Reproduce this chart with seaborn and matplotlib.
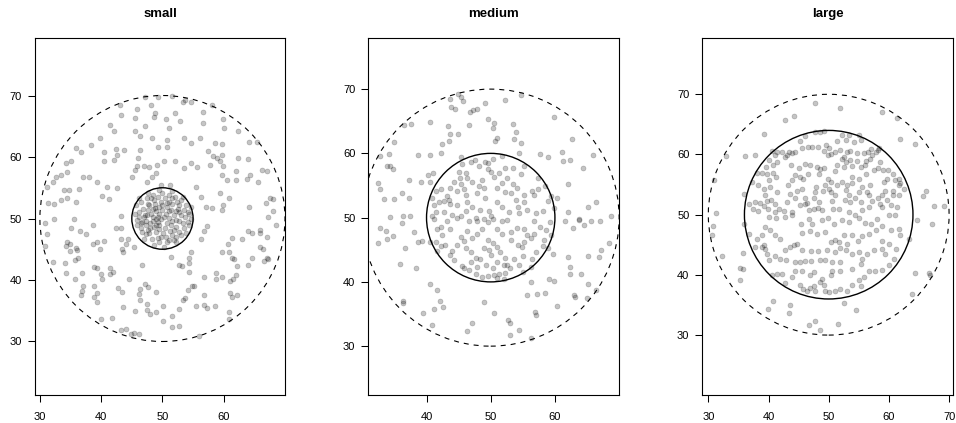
import matplotlib
matplotlib.use("Agg")
import matplotlib.pyplot as plt
from matplotlib.patches import Circle
import seaborn as sns
import pandas as pd

# ---------------- data ----------------
titles = ["small", "medium", "large"]
center = (50, 50)
inner_radius = [5, 10, 14]
outer_radius = 20

small_outer = [
    (47.2,69.8),(49.3,69.8),(51.6,69.9),(53.4,68.9),(54.6,69.0),(53.6,69.3),(43.1,68.4),(45.9,67.8),
    (48.2,68.5),(56.6,67.3),(58.1,68.4),(48.8,67.2),(48.7,66.5),(50.5,66.1),(52.0,67.1),(52.8,65.8),
    (43.2,66.9),(45.6,66.3),(41.4,65.2),(42.1,64.2),(47.1,65.0),(51.1,64.7),(56.6,65.6),(59.9,66.1),
    (60.0,64.7),(62.4,64.2),(39.8,63.1),(45.6,64.2),(46.3,63.4),(48.3,63.1),(50.8,62.8),(53.5,63.1),
    (54.6,62.3),(56.2,63.1),(58.6,62.3),(59.7,62.1),(64.1,62.5),(65.4,62.5),(35.9,61.5),(36.7,60.8),
    (38.3,62.0),(40.4,60.8),(42.5,61.3),(43.7,61.1),(46.4,61.1),(49.2,61.6),(50.8,61.6),(57.5,60.9),
    (58.2,60.1),(58.9,59.8),(59.7,60.4),(59.4,59.4),(62.4,59.8),(64.0,59.7),(40.5,59.4),(42.1,59.5),
    (42.6,60.4),(46.0,59.8),(45.8,58.6),(47.0,58.5),(47.8,58.4),(50.2,59.4),(52.0,59.4),(49.1,58.7),
    (53.5,58.2),(54.6,59.1),(55.6,58.4),(57.8,58.7),(59.9,58.5),(62.0,57.8),(64.3,57.1),(66.3,57.9),
    (67.1,57.8),(34.2,59.0),(35.0,59.3),(33.4,57.1),(34.5,57.5),(32.6,56.7),(37.0,56.8),(38.0,56.7),
    (39.4,56.0),(40.9,55.1),(42.6,54.9),(45.1,56.8),(45.6,57.9),(47.5,56.0),(48.3,56.8),(49.0,57.4),
    (49.7,55.5),(51.3,55.4),(55.4,55.2),(59.7,57.1),(60.5,56.3),(62.0,56.2),(63.8,56.4),(65.6,55.9),
    (31.1,55.1),(32.1,56.0),(34.0,54.7),(34.8,54.7),(36.3,54.8),(40.2,53.6),(41.3,53.2),(33.5,53.0),
    (34.4,53.3),(35.9,52.7),(31.4,52.6),(32.3,52.3),(43.2,50.4),(56.3,53.5),(57.1,51.9),(58.1,51.7),
    (59.4,54.1),(60.9,53.3),(59.9,52.2),(59.8,51.4),(64.1,51.8),(67.5,53.3),(68.1,53.1),(66.9,52.6),
    (68.0,51.3),(67.3,50.3),(32.3,50.0),(35.6,50.0),
    (30.8,49.2),(31.1,47.5),(30.8,45.6),(35.1,48.5),(36.6,48.0),(37.5,47.4),(38.7,48.9),(42.5,48.4),
    (43.3,48.4),(34.5,46.2),(34.9,45.8),(34.2,45.6),(35.9,45.2),(36.1,44.9),(34.9,44.7),(38.6,45.9),
    (39.4,46.1),(40.4,46.3),(39.8,45.0),(43.3,46.7),(44.3,46.7),(44.0,45.9),(43.4,45.1),(43.6,44.6),
    (45.3,45.4),(32.2,43.0),(34.1,42.8),(35.7,43.3),(36.2,43.6),(34.3,41.2),(35.7,40.2),(36.9,41.2),
    (38.8,42.1),(39.4,41.9),(40.0,41.0),(40.2,40.2),(41.5,42.0),(41.4,41.0),(42.0,41.3),(44.5,40.2),
    (46.7,42.4),(47.2,39.3),(47.6,38.9),(37.1,39.0),(36.8,38.2),(36.7,37.5),(38.9,39.0),(39.3,37.9),
    (38.8,37.2),(39.3,36.4),(42.7,38.7),(43.4,38.1),(46.3,38.5),(46.2,37.8),(46.3,36.7),(48.9,38.1),
    (39.9,33.7),(41.7,33.9),(43.6,35.6),(45.6,34.9),(47.5,36.1),(47.4,35.1),(47.9,34.4),(49.0,34.8),
    (50.1,35.8),(50.1,33.4),(51.6,34.2),(52.7,35.3),(43.3,31.9),(44.1,32.1),(44.8,31.3),(45.3,31.4),
    (46.2,31.3),(51.6,32.4),(52.7,32.6),(55.9,30.9),(51.4,43.8),(52.7,42.4),(53.2,42.2),(54.4,42.7),
    (54.4,43.5),(54.7,44.5),(54.4,41.3),(56.7,40.5),(54.8,39.0),(55.2,39.0),(54.1,38.3),(53.6,37.0),
    (53.4,36.7),(55.5,35.8),(56.7,37.5),(56.8,36.0),(57.2,35.5),(58.6,35.8),(58.7,40.2),(59.7,40.5),
    (58.8,41.2),(59.8,44.6),(60.9,44.6),(61.3,43.6),(61.7,43.4),(61.1,39.8),(61.5,40.1),(62.0,40.8),
    (62.2,42.3),(63.9,42.5),(64.6,43.5),(61.1,37.9),(62.1,37.5),(61.4,37.2),(60.9,34.8),(60.8,33.6),
    (56.3,46.7),(56.7,48.0),(57.3,48.7),(60.7,45.9),(61.3,46.8),(63.0,46.7),(63.9,47.9),(64.6,47.6),
    (65.9,48.1),(65.9,47.7),(67.0,47.0),(66.0,45.4),(66.4,45.0),(67.0,43.5),(66.5,43.1),(67.3,43.4),
    (68.5,49.0),
]
small_inner = [
    (46.5,52.7),(47.4,53.4),(48.4,53.8),(49.2,53.5),(50.0,54.1),(51.1,53.9),(52.1,53.5),(53.0,53.0),
    (53.8,52.2),(54.3,50.8),(54.1,49.5),(53.5,48.4),(53.0,47.3),(51.9,46.5),(50.8,46.1),(49.5,46.2),
    (48.3,46.6),(47.3,47.4),(46.5,48.4),(45.9,49.7),(46.1,51.1),(46.9,51.6),(47.8,52.2),(48.8,52.4),
    (49.7,52.7),(50.7,52.6),(51.6,52.3),(52.6,51.6),(53.1,50.5),(52.7,49.6),(52.2,48.6),(51.2,47.9),
    (50.1,47.6),(48.9,47.8),(47.9,48.5),(47.3,49.6),(47.2,50.5),(48.1,50.8),(49.0,51.2),(50.0,51.4),
    (51.0,51.2),(51.9,50.5),(51.6,49.6),(50.7,49.2),(49.5,49.0),(48.5,49.6),(49.2,50.3),(50.3,50.3),
    (51.1,50.1),(47.6,51.4),(46.7,49.5),(46.5,49.2),(47.3,48.9),(51.1,52.7),(52.2,49.7),(52.7,47.8),
    (48.9,48.9),(50.5,47.0),(53.7,50.3),(52.4,52.7),(48.6,53.0),(49.5,50.8),(47.8,47.6),(51.6,47.3),
    (50.0,52.2),(47.0,50.3),(53.5,51.4),(48.4,50.3),(51.1,46.5),(49.2,46.9),(52.2,51.2),(50.4,48.4),
    (47.6,52.4),(54.3,48.9),(46.2,50.3),(49.7,49.9),(48.8,51.7),(51.4,48.9),(52.7,51.0),(47.9,49.3),
    (49.5,48.3),(45.6,50.8),(45.8,48.9),(46.6,47.8),(47.0,46.7),(48.6,45.7),(50.3,45.4),(52.2,46.1),
    (53.8,47.6),(54.6,50.0),(54.6,51.9),(53.3,53.5),(51.6,54.4),(49.5,54.6),(47.6,54.1),(46.2,53.3),
    (45.7,52.2),(48.1,53.3),(50.4,53.4),(52.7,52.2),(49.5,51.9),(50.8,51.9),(47.4,50.5),(48.6,48.6),
    (49.7,47.0),(51.9,48.1),(53.3,49.2),(50.5,50.8),(51.4,51.4),(48.4,51.6),(52.2,47.0),(47.6,48.1),
    (48.9,50.0),(51.6,53.3),(54.1,51.1),(49.2,49.5),
]

medium_outer = [
    (44.9,69.2),(45.3,68.8),(45.7,68.2),(43.6,68.4),(49.1,67.9),(52.2,68.3),(54.7,69.1),(43.8,67.2),
    (44.4,66.9),(46.8,66.5),(47.3,66.7),(47.8,66.9),(49.6,65.4),(50.5,64.7),(50.3,64.0),(53.4,64.5),
    (59.9,65.7),(36.5,64.4),(37.6,64.5),(40.5,64.9),(43.3,64.3),(46.6,64.4),(43.6,63.0),(44.9,63.0),
    (53.9,63.3),(53.7,62.2),(54.7,61.6),(51.0,62.4),(50.6,61.9),(42.4,61.4),(43.5,62.0),(34.9,61.8),
    (62.6,62.3),(32.8,59.6),(34.2,59.9),(38.6,59.8),(40.5,59.7),(42.2,60.1),(45.3,59.4),(54.4,60.1),
    (57.7,59.9),(58.9,59.4),(61.1,60.2),(61.3,58.8),(62.4,58.9),(66.0,59.8),(33.8,58.1),(34.3,58.0),
    (34.7,57.6),(64.4,57.7),(37.2,55.9),(39.1,55.6),(40.6,55.6),(40.2,56.7),(41.0,56.9),(32.5,55.4),
    (32.8,54.5),(33.3,52.9),(35.0,52.9),(36.2,53.9),(37.2,53.1),(62.0,55.2),(60.4,53.0),(66.4,52.4),
    (65.2,51.6),(62.1,50.8),(63.8,49.8),(65.6,49.5),(68.8,50.3),(34.3,50.1),(36.4,50.2),(37.5,50.2),
    (32.8,48.4),(33.7,47.9),(33.9,46.7),(34.8,47.2),(32.5,46.1),(36.2,49.1),(36.7,45.2),(38.1,47.7),
    (38.6,46.2),(39.3,46.3),(40.6,46.2),(35.8,42.8),(38.3,42.2),(40.5,39.6),(41.7,38.7),(36.3,37.1),
    (36.4,36.7),(42.1,37.1),(42.6,36.1),(39.5,35.2),(41.2,35.8),(40.9,33.3),(46.3,32.4),(47.1,33.6),
    (48.9,36.9),(50.5,35.2),(52.7,34.1),(53.0,33.6),(53.0,31.7),(54.4,32.5),(56.3,31.2),(56.9,35.3),
    (57.0,34.8),(55.6,37.9),(57.2,38.1),(58.4,38.3),(59.1,40.5),(59.9,40.1),(56.2,40.0),(60.3,36.2),
    (63.0,38.0),(63.1,37.6),(65.0,37.5),(66.4,38.8),(65.1,39.7),(64.1,41.3),(62.4,42.3),(62.4,41.3),
    (65.1,44.0),(66.8,43.9),(67.1,45.0),(68.4,46.0),(62.0,43.9),(59.7,44.3),(61.5,49.4),(63.8,49.6),
    (62.8,48.4),(64.6,48.9),(67.0,49.4),
]
medium_inner = [
    (45.6,58.3),(46.9,58.7),(47.5,58.9),(48.2,58.1),(49.1,58.7),(49.5,58.5),(50.3,59.2),(51.8,59.6),
    (52.3,57.8),(53.5,57.8),(54.7,56.8),(55.2,58.1),(45.0,57.1),(46.1,56.9),(46.3,56.2),(45.2,56.1),
    (44.3,55.6),(45.3,55.2),(43.7,54.6),(42.2,54.5),(41.4,54.2),(40.9,53.0),(41.9,52.4),(42.7,52.6),
    (43.5,52.8),(43.6,52.1),(44.8,51.9),(46.1,53.6),(46.3,52.5),(47.8,53.8),(48.2,54.9),(48.9,54.6),
    (49.1,53.0),(49.5,57.6),(50.0,57.1),(50.5,56.4),(51.3,56.9),(51.7,55.4),(51.0,54.6),(52.2,54.0),
    (53.1,53.8),(54.1,54.6),(53.9,52.8),(55.2,52.4),(56.7,53.6),(57.3,54.5),(56.5,54.1),(57.3,56.1),
    (58.4,54.9),(59.4,53.3),(58.9,52.6),(58.1,51.0),(57.0,50.7),(55.7,51.2),(54.4,50.7),(52.9,50.8),
    (51.8,51.7),(50.9,52.5),(49.7,51.0),(48.4,51.2),(47.1,51.7),(46.1,51.0),(45.3,50.3),(44.0,50.4),
    (42.7,50.8),(41.4,50.8),(40.9,50.2),(47.7,50.0),(50.0,50.2),(54.2,51.7),(55.2,53.6),(53.4,55.2),
    (52.6,56.1),(48.7,55.9),(47.1,55.6),(45.8,54.5),(44.7,54.2),(43.2,53.3),(41.1,51.9),(59.9,51.5),
    (41.1,49.8),(41.7,48.3),(42.2,48.6),(43.2,49.5),(44.7,49.9),(46.6,49.4),(47.8,49.5),(49.0,49.8),
    (49.6,49.3),(50.4,49.8),(51.8,49.4),(52.6,49.6),(54.1,48.4),(55.2,48.2),(56.7,49.5),(57.6,48.6),
    (58.6,48.1),(59.3,49.3),(59.4,47.3),(58.3,46.5),(58.1,45.6),(58.9,45.2),(57.0,44.7),(56.5,43.6),
    (55.0,44.0),(54.4,42.7),(53.6,43.6),(52.6,42.6),(52.2,43.7),(51.5,44.6),(51.0,45.5),(50.3,46.0),
    (49.5,46.5),(48.7,48.2),(47.9,47.5),(47.1,46.8),(46.3,47.9),(45.8,46.3),(45.3,47.0),(44.8,45.7),
    (44.0,44.8),(43.7,44.2),(42.8,45.8),(42.2,45.6),(41.7,44.8),(41.4,46.2),(42.4,47.3),(43.7,48.3),
    (44.3,43.4),(45.6,42.5),(45.8,42.2),(46.6,41.8),(47.7,41.3),(48.7,40.8),(49.5,40.9),(50.5,41.0),
    (51.3,41.3),(52.3,41.4),(53.0,42.1),(52.1,40.5),(51.0,40.6),(50.3,42.1),(49.2,42.6),(48.4,43.6),
    (47.7,43.7),(46.9,44.7),(46.1,45.2),(49.0,45.2),(50.0,44.2),(51.0,43.1),(52.0,42.6),(53.1,46.5),
    (54.2,45.7),(55.2,46.2),(56.3,46.8),(56.7,47.5),(55.7,47.3),(54.8,45.5),(46.9,43.1),(47.9,42.3),
    (49.7,44.9),(51.8,47.5),(53.1,47.8),(51.0,48.3),(55.0,41.6),(56.3,42.3),
]

large_outer = [
    (47.7,68.5),(51.8,67.8),(58.9,67.1),(61.3,66.1),(42.7,65.7),(44.3,66.4),(39.2,63.4),(61.8,62.6),
    (64.3,61.7),(32.9,59.8),(36.1,59.8),(37.8,59.9),(31.0,55.8),(36.0,53.5),(66.1,53.9),(65.6,53.1),
    (67.5,51.4),(69.2,51.4),(31.2,50.3),(30.7,48.2),(30.6,46.6),(36.0,48.4),(32.2,43.1),(35.7,43.7),
    (35.3,41.2),(35.8,40.9),(35.2,39.2),(39.9,34.3),(40.7,35.7),(43.6,35.0),(43.4,33.6),(47.7,32.3),
    (46.8,31.6),(48.6,30.8),(51.6,31.8),(54.6,34.2),(52.6,35.3),(63.9,36.9),(64.3,40.3),(66.7,40.3),
    (66.8,39.9),(67.1,48.4),(64.6,49.2),(63.3,46.0),
]
large_inner = [
    (46.1,63.1),(47.8,63.8),(49.2,63.9),(48.6,63.8),(52.2,63.2),(53.4,63.2),(55.1,63.2),(55.4,62.4),
    (54.2,62.0),(52.8,62.4),(51.4,62.2),(47.2,61.3),(46.6,61.3),(48.3,61.3),(49.6,61.6),(50.1,61.0),
    (49.3,60.6),(49.9,59.9),(50.4,60.0),(45.3,62.2),(44.4,60.4),(45.6,61.0),(43.4,60.4),(43.9,60.2),
    (43.1,59.9),(42.2,60.4),(41.4,60.4),(40.6,60.6),(42.7,59.6),(41.1,59.9),(40.0,59.1),(41.4,58.7),
    (40.7,58.2),(39.6,57.9),(38.9,57.0),(39.7,56.7),(40.8,57.0),(41.3,56.3),(38.1,57.0),(37.2,55.4),
    (38.3,54.9),(39.2,54.3),(40.3,54.6),(40.0,55.7),(41.4,53.8),(39.4,53.2),(37.8,52.1),(38.6,52.0),
    (39.7,52.2),(40.4,52.5),(41.0,51.8),(39.2,51.4),(39.9,50.9),(41.1,50.4),(38.3,50.6),(37.5,50.9),
    (36.7,51.8),(43.1,52.1),(44.4,52.7),(44.7,53.9),(45.6,54.3),(46.0,52.7),(46.4,52.0),(45.3,51.6),
    (43.6,53.5),(43.2,54.9),(43.9,55.7),(44.4,56.6),(45.3,56.3),(45.8,55.9),(43.8,58.2),(45.0,57.8),
    (46.1,58.5),(46.9,58.2),(46.6,56.7),(48.1,57.9),(48.6,57.6),(49.2,57.7),(48.4,56.8),(49.9,56.0),
    (49.4,54.9),(50.4,55.4),(50.1,54.3),(49.0,53.9),(47.9,54.6),(47.8,53.8),(47.5,52.7),(48.4,52.1),
    (50.3,53.7),(50.6,52.2),(51.1,53.2),(51.4,54.9),(52.2,55.4),(53.1,54.9),(53.8,55.3),(52.8,54.1),
    (53.3,53.2),(52.7,52.4),(53.6,52.1),(54.4,52.8),(55.1,53.7),(55.4,52.1),(56.4,53.7),(56.7,53.2),
    (55.6,54.6),(56.9,55.0),(55.0,56.0),(53.9,56.3),(52.5,57.9),(52.2,59.2),(52.5,59.6),(53.6,59.1),
    (52.8,58.8),(53.8,58.1),(54.7,58.9),(55.3,57.9),(56.0,58.2),(56.2,58.9),(56.8,59.3),(57.2,59.9),
    (57.8,60.4),(58.2,60.7),(58.4,61.1),(57.1,60.9),(56.6,60.4),(55.8,60.2),(54.7,60.2),(53.6,60.6),
    (53.1,60.4),(51.9,60.7),(51.0,60.4),(51.4,58.2),(51.1,57.2),(56.2,56.7),(57.5,57.4),(58.2,57.8),
    (59.0,57.4),(59.9,57.4),(60.6,56.8),(58.6,58.8),(59.2,55.4),(59.7,56.0),(61.0,55.7),(61.7,55.9),
    (61.9,55.2),(62.5,54.3),(61.7,54.9),(60.6,53.9),(59.4,53.9),(58.9,53.2),(58.6,51.8),(58.2,52.7),
    (59.7,52.4),(60.6,53.2),(61.7,53.2),(60.3,51.6),(61.4,51.3),(58.9,51.3),(57.2,52.2),(56.7,51.3),
    (55.6,50.7),(53.3,50.4),(51.7,51.0),(50.7,50.9),(48.9,50.7),(48.2,51.1),(47.5,50.9),(46.7,50.7),
    (46.1,51.8),(43.9,50.4),(42.5,50.6),(41.7,51.0),
    (40.1,49.6),(41.2,49.5),(42.8,49.6),(43.9,49.9),(45.4,48.5),(46.7,49.3),(47.3,48.4),(48.9,49.1),
    (49.9,49.5),(50.8,48.5),(52.2,49.1),(53.4,48.8),(54.4,49.9),(55.0,49.5),(56.0,48.6),(57.1,48.5),
    (58.1,49.3),(58.9,48.2),(60.0,49.9),(61.0,49.9),(61.9,46.6),(57.8,47.4),(56.7,46.8),(55.6,46.4),
    (54.9,45.7),(53.9,46.7),(52.5,46.6),(51.1,45.8),(50.3,45.4),(49.4,47.1),(48.1,46.8),(46.9,47.3),
    (45.6,46.9),(44.7,45.2),(44.3,44.9),(43.6,44.6),(42.8,44.2),(41.9,46.0),(41.1,46.6),(40.3,47.4),
    (39.4,47.9),(38.9,46.6),(38.1,46.0),(39.3,44.9),(39.7,43.5),(41.1,43.2),(41.9,42.7),(42.9,42.4),
    (44.4,42.1),(45.3,42.1),(46.1,42.3),(47.1,42.3),(48.6,42.5),(49.4,42.5),(50.6,42.1),(51.9,42.1),
    (50.6,40.7),(51.8,40.7),(50.3,39.9),(48.9,39.3),(48.6,38.8),(49.2,38.4),(47.5,38.2),(46.9,37.9),
    (45.7,37.7),(45.3,38.4),(43.9,39.6),(42.8,38.6),(42.3,40.2),(41.4,40.2),(40.6,39.9),(40.0,42.4),
    (39.4,44.3),(38.9,44.6),(37.8,44.6),(36.8,46.8),(45.6,44.1),(47.1,43.9),(48.3,43.9),(49.7,44.1),
    (51.0,43.8),(51.8,44.5),(52.8,44.1),(53.9,43.5),(55.1,43.8),(56.4,43.5),(57.5,44.1),(58.9,44.3),
    (59.3,43.5),(60.8,42.7),(60.0,41.6),(58.8,40.8),(57.7,40.6),(56.7,40.6),(55.8,39.6),(55.0,39.1),
    (55.3,38.1),(53.9,38.4),(53.1,37.4),(51.9,37.7),(51.1,37.4),(50.0,37.1),(49.4,37.4),(47.8,37.4),
    (46.4,37.4),(53.9,41.0),(55.4,41.8),(55.6,42.7),(53.1,45.2),(51.7,45.4),(58.9,45.7),(60.0,45.2),
    (61.1,44.3),(61.7,47.7),(60.4,47.4),(45.6,40.7),(44.4,40.7),(46.9,39.9),(47.5,40.4),
]

x_ticks = [[30, 40, 50, 60], [40, 50, 60], [30, 40, 50, 60, 70]]
y_ticks = [30, 40, 50, 60, 70]
x_limits = [(29.2, 70.0), (30.93, 69.98), (29.0, 70.7)]
y_limits = [(21.3, 79.4), (22.4, 78.0), (20.05, 79.4)]

panels = [small_outer + small_inner, medium_outer + medium_inner, large_outer + large_inner]

# ---------------- drawing ----------------
sns.set_style("white")
plt.rcParams["font.family"] = ["Liberation Sans", "DejaVu Sans"]
plt.rcParams["text.color"] = "black"
plt.rcParams["xtick.color"] = "black"
plt.rcParams["ytick.color"] = "black"

W, H = 956, 423
fig = plt.figure(figsize=(W / 100, H / 100), dpi=100)
lefts = [35.0, 368.3, 702.3]
widths = [250.0, 250.7, 251.0]
bottom, height = 28.0, 357.3

for i in range(3):
    ax = fig.add_axes([lefts[i] / W, bottom / H, widths[i] / W, height / H])
    df = pd.DataFrame(panels[i], columns=["x", "y"])
    sns.scatterplot(data=df, x="x", y="y", ax=ax, color="black", alpha=0.23,
                    s=13, edgecolor="black", linewidth=0.45, legend=False, zorder=2)
    ax.add_patch(Circle(center, inner_radius[i], fill=False, ec="black", lw=1.0, zorder=3))
    ax.add_patch(Circle(center, outer_radius, fill=False, ec="black", lw=0.8,
                        linestyle=(0, (4.5, 4.5)), zorder=3))
    ax.set_xlim(*x_limits[i])
    ax.set_ylim(*y_limits[i])
    ax.set_xticks(x_ticks[i])
    ax.set_yticks(y_ticks)
    ax.set_xlabel("")
    ax.set_ylabel("")
    for sp in ax.spines.values():
        sp.set_visible(True)
        sp.set_color("black")
        sp.set_linewidth(0.8)
    ax.tick_params(axis="both", direction="out", length=4.8, width=0.75,
                   colors="black", labelcolor="black", labelsize=8, left=True, bottom=True)
    ax.tick_params(axis="x", pad=7.5)
    ax.tick_params(axis="y", pad=4.5)
    ax.set_title(titles[i], fontsize=9.5, fontweight="bold", pad=15, color="black")

fig.savefig("out.png", dpi=100)
